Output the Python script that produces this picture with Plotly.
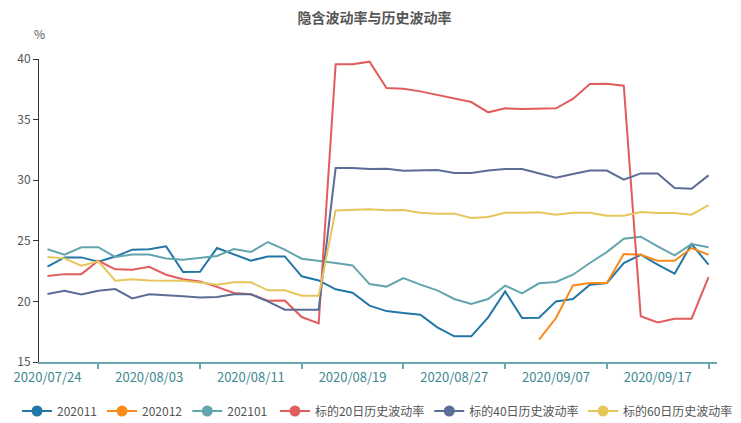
import plotly.graph_objects as go

dates = ["2020/07/24", "2020/07/27", "2020/07/28", "2020/07/29", "2020/07/30", "2020/07/31",
         "2020/08/03", "2020/08/04", "2020/08/05", "2020/08/06", "2020/08/07", "2020/08/10",
         "2020/08/11", "2020/08/12", "2020/08/13", "2020/08/14", "2020/08/17", "2020/08/18",
         "2020/08/19", "2020/08/20", "2020/08/21", "2020/08/24", "2020/08/25", "2020/08/26",
         "2020/08/27", "2020/08/28", "2020/08/31", "2020/09/01", "2020/09/02", "2020/09/03",
         "2020/09/07", "2020/09/08", "2020/09/09", "2020/09/11", "2020/09/14", "2020/09/16",
         "2020/09/17", "2020/09/18", "2020/09/21", "2020/09/22"]

s202011 = [22.86, 23.63, 23.63, 23.27, 23.70, 24.27, 24.30, 24.54, 22.43, 22.45,
           24.40, 23.90, 23.36, 23.71, 23.71, 22.07, 21.73, 21.00, 20.72, 19.65,
           19.20, 19.04, 18.90, 17.86, 17.12, 17.12, 18.68, 20.83, 18.63, 18.65,
           20.00, 20.20, 21.38, 21.52, 23.17, 23.85, 23.03, 22.29, 24.73, 23.03]

s202012 = [None] * 29 + [16.84, 18.63, 21.32, 21.52, 21.52, 23.91, 23.85, 23.36, 23.36, 24.40, 23.85]

s202101 = [24.30, 23.85, 24.47, 24.47, 23.66, 23.87, 23.87, 23.54, 23.44, 23.62,
           23.75, 24.32, 24.07, 24.90, 24.27, 23.52, 23.36, 23.17, 22.97, 21.43,
           21.22, 21.93, 21.38, 20.91, 20.20, 19.79, 20.20, 21.30, 20.66, 21.49,
           21.60, 22.20, 23.17, 24.07, 25.17, 25.34, 24.54, 23.80, 24.73, 24.46]

hv20 = [22.10, 22.25, 22.25, 23.35, 22.65, 22.61, 22.85, 22.20, 21.82, 21.65,
        21.20, 20.70, 20.60, 20.05, 20.07, 18.71, 18.18, 39.56, 39.56, 39.78,
        37.60, 37.55, 37.33, 37.05, 36.78, 36.45, 35.60, 35.93, 35.87, 35.87,
        35.93, 36.70, 37.94, 37.96, 37.80, 18.77, 18.27, 18.57, 18.57, 22.01]

hv40 = [20.61, 20.88, 20.58, 20.88, 21.02, 20.25, 20.58, 20.47, 20.42, 20.33,
        20.36, 20.58, 20.58, 20.00, 19.32, 19.32, 19.32, 31.00, 31.00, 30.92,
        30.95, 30.78, 30.80, 30.84, 30.59, 30.60, 30.80, 30.92, 30.92, 30.59,
        30.20, 30.51, 30.80, 30.80, 30.04, 30.56, 30.56, 29.35, 29.30, 30.40]

hv60 = [23.66, 23.55, 22.95, 23.30, 21.71, 21.82, 21.73, 21.71, 21.71, 21.55,
        21.38, 21.58, 21.58, 20.91, 20.91, 20.47, 20.47, 27.51, 27.57, 27.60,
        27.52, 27.54, 27.32, 27.24, 27.24, 26.88, 26.96, 27.32, 27.32, 27.35,
        27.15, 27.32, 27.32, 27.07, 27.07, 27.37, 27.29, 27.29, 27.15, 27.95]

names = ["202011", "202012", "202101", "标的20日历史波动率", "标的40日历史波动率", "标的60日历史波动率"]
series = [s202011, s202012, s202101, hv20, hv40, hv60]
colors = ["#2277a6", "#f98b1c", "#62a5ad", "#e15d5d", "#5b6d96", "#e6c65a"]
legend_ids = ["legend", "legend", "legend", "legend2", "legend2", "legend3"]

x = list(range(len(dates)))
label_step = 6

fig = go.Figure()
for name, ys, c in zip(names, series, colors):
    fig.add_trace(go.Scatter(x=x, y=ys, mode="lines", name=name,
                             line=dict(color=c, width=2), showlegend=False,
                             connectgaps=False))
for name, c, lg in zip(names, colors, legend_ids):
    fig.add_trace(go.Scatter(x=[None], y=[None], mode="lines+markers", name=name,
                             line=dict(color=c, width=2), legend=lg,
                             marker=dict(color=c, size=11, symbol="circle")))

font_family = "Noto Sans CJK SC, Noto Sans, sans-serif"

# page body has an 8px margin, so the figure is sized/offset to compensate
W, H = 733, 415
legend_style = dict(orientation="h", xanchor="left", y=-49 / 303, yanchor="middle",
                    font=dict(size=12, color="#555555", family=font_family),
                    itemwidth=30, traceorder="normal", tracegroupgap=0,
                    bgcolor="rgba(0,0,0,0)")
fig.update_layout(
    width=W, height=H,
    margin=dict(l=31, r=24, t=51, b=61, autoexpand=False),
    paper_bgcolor="white", plot_bgcolor="white",
    font=dict(family=font_family, color="#555555", size=12),
    title=dict(text="<b>隐含波动率与历史波动率</b>", x=0.5, xanchor="center",
               y=1 - 10 / H, yanchor="middle", yref="container",
               font=dict(size=14, color="#555555", family=font_family)),
    showlegend=True,
    legend=dict(x=-0.0324, **legend_style),
    legend2=dict(x=0.348, **legend_style),
    legend3=dict(x=0.8024, **legend_style),
    xaxis=dict(range=[-0.5, len(dates) - 0.5], tickmode="array",
               tickvals=x[::label_step], ticktext=dates[::label_step],
               ticks="", showgrid=False, zeroline=False,
               showline=True, linecolor="#6aa6ad", linewidth=1.5,
               ticklabelstandoff=3,
               tickfont=dict(color="#3e8891", size=13, family=font_family),
               minor=dict(tick0=label_step / 2, dtick=label_step, ticks="outside",
                          ticklen=5, tickcolor="#6aa6ad", tickwidth=1.5, showgrid=False)),
    yaxis=dict(range=[15, 40], dtick=5, tick0=15, ticks="outside", ticklen=5,
               tickcolor="#333333", showgrid=False, zeroline=False,
               showline=True, linecolor="#333333", linewidth=1,
               tickfont=dict(color="#555555", size=12, family=font_family)),
)

fig.add_annotation(text="%", xref="paper", yref="paper", x=0, y=1 + 26 / 303,
                   xanchor="center", yanchor="middle", showarrow=False,
                   font=dict(size=12, color="#555555", family=font_family))

fig.write_html("out.html")
